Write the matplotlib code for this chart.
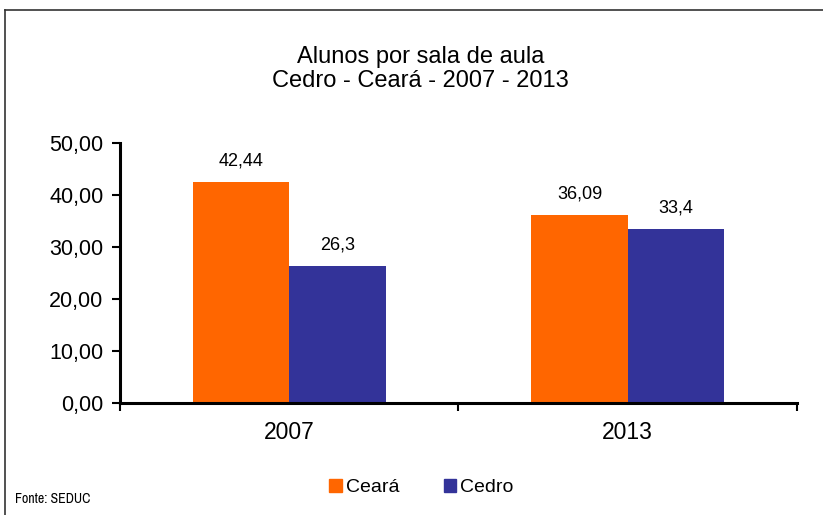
import matplotlib
matplotlib.use("Agg")
import matplotlib.pyplot as plt
from matplotlib.lines import Line2D
from matplotlib.patches import Patch
from matplotlib import font_manager
import numpy as np

plt.rcParams['font.family'] = ['Liberation Sans', 'DejaVu Sans']

categories = ['2007', '2013']
series_names = ['Ceará', 'Cedro']
ceara = [42.44, 36.09]
cedro = [26.3, 33.4]
ceara_labels = ['42,44', '36,09']
cedro_labels = ['26,3', '33,4']
yticks = [0, 10, 20, 30, 40, 50]
ytick_labels = ['0,00', '10,00', '20,00', '30,00', '40,00', '50,00']

colors = ['#FF6600', '#333399']

fig = plt.figure(figsize=(8.23, 5.15), dpi=100)
ax = fig.add_axes([0.1458, 0.2175, 0.8226, 0.5048])

x = np.arange(len(categories))
w = 0.285
b1 = ax.bar(x - w/2, ceara, w, color=colors[0], label=series_names[0])
b2 = ax.bar(x + w/2, cedro, w, color=colors[1], label=series_names[1])

for bars, labs in ((b1, ceara_labels), (b2, cedro_labels)):
    for r, lab in zip(bars, labs):
        ax.annotate(lab, (r.get_x() + r.get_width()/2, r.get_height()),
                    xytext=(0, 9), textcoords='offset points',
                    ha='center', va='bottom', fontsize=13)

ax.set_xlim(-0.5, 1.5)
ax.set_ylim(0, 50)
ax.set_yticks(yticks)
ax.set_yticklabels(ytick_labels, fontsize=15.5)
ax.set_xticks([-0.5, 0.5, 1.5])
ax.set_xticklabels([])
ax.set_xticks(x, minor=True)
ax.set_xticklabels(categories, minor=True, fontsize=16.5)
ax.tick_params(axis='x', which='minor', length=0, pad=13)
ax.tick_params(axis='x', which='major', length=6, width=1.5, direction='out')
ax.tick_params(axis='y', length=6, width=1.5, direction='out', pad=6)
for s in ['top', 'right']:
    ax.spines[s].set_visible(False)
for s in ['left', 'bottom']:
    ax.spines[s].set_linewidth(2.2)

fig.text(0.511, 0.866, 'Alunos por sala de aula\nCedro - Ceará - 2007 - 2013',
         ha='center', va='center', fontsize=17, linespacing=1.1)

handles = [Patch(color=colors[0]), Patch(color=colors[1])]
fig.legend(handles, series_names, loc='center', bbox_to_anchor=(0.512, 0.054),
           ncol=2, frameon=False, fontsize=14, handlelength=0.65, handleheight=0.65,
           handletextpad=0.2, columnspacing=2.3)

narrow = [f.name for f in font_manager.fontManager.ttflist if 'Narrow' in f.name]
fonte_family = [narrow[0], 'Liberation Sans'] if narrow else ['Liberation Sans']
fonte_size = 10 if narrow else 8.5
fig.text(0.018, 0.032, 'Fonte: SEDUC', fontsize=fonte_size, ha='left', va='center',
         family=fonte_family)

# figure border (top and left)
fig.add_artist(Line2D([0.006, 0.006], [0, 0.981], color='#333333', lw=1.2, transform=fig.transFigure))
fig.add_artist(Line2D([0.006, 1.0], [0.981, 0.981], color='#333333', lw=1.2, transform=fig.transFigure))

fig.savefig('out.png', dpi=100)
